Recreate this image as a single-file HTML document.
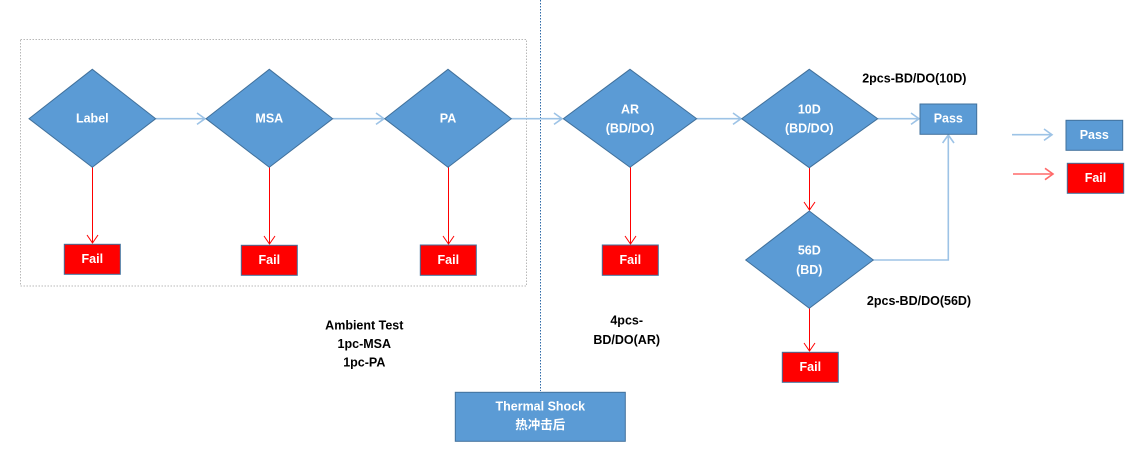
<!DOCTYPE html>
<html><head><meta charset="utf-8"><style>
html,body{margin:0;padding:0;background:#fff;}
svg{display:block;}
text{font-family:"Liberation Sans","Noto Sans CJK SC",sans-serif;font-weight:bold;font-size:12.5px;}
</style></head><body>
<svg width="1147" height="456" viewBox="0 0 1147 456" xmlns="http://www.w3.org/2000/svg">
<rect x="0" y="0" width="1147" height="456" fill="#fff"/>
<!-- dashed group box -->
<rect x="20.5" y="39.5" width="506" height="246.5" fill="none" stroke="#b8b8b8" stroke-width="1" stroke-dasharray="1.5,1.5"/>
<!-- vertical dotted line -->
<line x1="540.5" y1="0" x2="540.5" y2="391" stroke="#2e6aa8" stroke-width="1" stroke-dasharray="1.5,1.5"/>

<g fill="none" stroke="#9dc3e6" stroke-width="1.6">
<line x1="156" y1="118.7" x2="205" y2="118.7"/>
<polyline points="197,113 205,118.7 197,124.4"/>
<line x1="333" y1="118.7" x2="384" y2="118.7"/>
<polyline points="376,113 384,118.7 376,124.4"/>
<line x1="511" y1="118.7" x2="562" y2="118.7"/>
<polyline points="554,113 562,118.7 554,124.4"/>
<line x1="697" y1="118.7" x2="741" y2="118.7"/>
<polyline points="733,113 741,118.7 733,124.4"/>
<line x1="878" y1="118.7" x2="919" y2="118.7"/>
<polyline points="911,113 919,118.7 911,124.4"/>
<polyline points="873,260 948.3,260 948.3,135"/>
<polyline points="942.6,143 948.3,135 954,143"/>
<line x1="1012" y1="134.7" x2="1052" y2="134.7"/>
<polyline points="1044,129 1052,134.7 1044,140.4"/>
</g>

<g fill="none" stroke="#ff0000" stroke-width="1">
<line x1="92.5" y1="167" x2="92.5" y2="243"/>
<polyline points="87,235 92.5,243 98,235"/>
<line x1="269.5" y1="167" x2="269.5" y2="244"/>
<polyline points="264,236 269.5,244 275,236"/>
<line x1="448.5" y1="167" x2="448.5" y2="244"/>
<polyline points="443,236 448.5,244 454,236"/>
<line x1="630.5" y1="167" x2="630.5" y2="244"/>
<polyline points="625,236 630.5,244 636,236"/>
<line x1="809.5" y1="168" x2="809.5" y2="210"/>
<polyline points="804,202 809.5,210 815,202"/>
<line x1="809.5" y1="308" x2="809.5" y2="351"/>
<polyline points="804,343 809.5,351 815,343"/>
<line x1="1013" y1="174" x2="1053" y2="174" stroke="#ff6a6a" stroke-width="1.6"/>
<polyline points="1045,168.3 1053,174 1045,179.7" stroke="#ff6a6a" stroke-width="1.6"/>
</g>

<g fill="#5b9bd5" stroke="#41719c" stroke-width="1">
<polygon points="92.3,69.3 155.7,118.7 92.3,167.3 29,118.7"/>
<polygon points="269.3,69.3 332.7,118.7 269.3,167.3 206,118.7"/>
<polygon points="448,69.3 511.3,118.7 448,167.3 384.7,118.7"/>
<polygon points="630,69.3 696.7,118.7 630,167.3 563.3,118.7"/>
<polygon points="809.3,69.3 877.7,118.7 809.3,167.7 741.7,118.7"/>
<polygon points="809.3,211 873.3,260 809.3,308.3 745.7,260"/>
<rect x="920" y="104" width="56.7" height="30.3"/>
<rect x="1066" y="120.3" width="56.7" height="30"/>
<rect x="455.3" y="392.3" width="170" height="49"/>
</g>
<g fill="#ff0000" stroke="#41719c" stroke-width="1">
<rect x="64.3" y="244.3" width="56" height="30"/>
<rect x="241.3" y="245.3" width="56" height="30"/>
<rect x="420.3" y="245" width="56" height="30.3"/>
<rect x="602.3" y="245" width="56" height="30.3"/>
<rect x="782.3" y="352.3" width="56" height="30"/>
<rect x="1067.3" y="163.3" width="56.4" height="30"/>
</g>

<g fill="#ffffff" text-anchor="middle" dominant-baseline="central">
<text x="92.3" y="118.7">Label</text>
<text x="269.3" y="118.7">MSA</text>
<text x="448" y="118.7">PA</text>
<text x="630" y="109.3">AR</text>
<text x="630" y="128.3">(BD/DO)</text>
<text x="809.3" y="109.3">10D</text>
<text x="809.3" y="128.3">(BD/DO)</text>
<text x="809.3" y="250.7">56D</text>
<text x="809.3" y="270">(BD)</text>
<text x="948.3" y="118.7">Pass</text>
<text x="1094.3" y="135">Pass</text>
<text x="92.3" y="259">Fail</text>
<text x="269.3" y="260">Fail</text>
<text x="448.3" y="260">Fail</text>
<text x="630.3" y="260">Fail</text>
<text x="810.3" y="367">Fail</text>
<text x="1095.5" y="178">Fail</text>
<text x="540.3" y="406.7">Thermal Shock</text>
<text x="540.3" y="425" font-size="14" font-family="Liberation Sans,Noto Sans CJK SC,sans-serif">热冲击后</text>
</g>

<g fill="#000000" text-anchor="middle" dominant-baseline="central">
<text x="364.3" y="325.3">Ambient Test</text>
<text x="364.3" y="344">1pc-MSA</text>
<text x="364.3" y="362.7">1pc-PA</text>
<text x="626.7" y="320.7">4pcs-</text>
<text x="626.7" y="340">BD/DO(AR)</text>
<text x="914.3" y="78.3">2pcs-BD/DO(10D)</text>
<text x="919" y="301">2pcs-BD/DO(56D)</text>
</g>
</svg>
</body></html>
